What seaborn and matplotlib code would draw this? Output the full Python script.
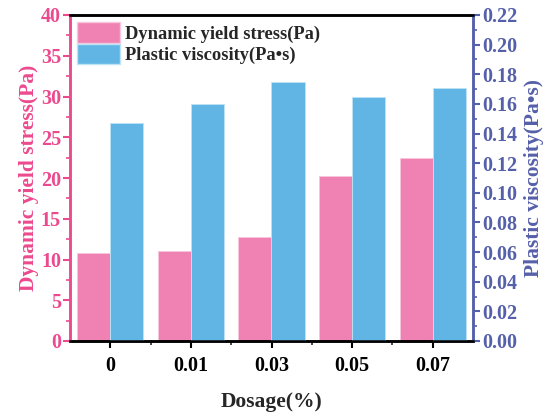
import numpy as np
import pandas as pd
import matplotlib
matplotlib.use("Agg")
import matplotlib.pyplot as plt
import seaborn as sns
from matplotlib.patches import Patch
from matplotlib.ticker import MultipleLocator

dosage = ["0", "0.01", "0.03", "0.05", "0.07"]
yield_stress = [10.8, 11.0, 12.8, 20.2, 22.5]
viscosity = [0.147, 0.160, 0.175, 0.165, 0.171]
series = ["Dynamic yield stress(Pa)", "Plastic viscosity(Pa•s)"]

PINK = "#F082B3"
BLUE = "#60B5E4"
PINK_AX = "#EC4A8E"
BLUE_AX = "#5560AA"

sns.set_style("ticks")
plt.rcParams["font.family"] = ["Liberation Serif", "DejaVu Serif"]
plt.rcParams["font.weight"] = "bold"

df1 = pd.DataFrame({"Dosage": dosage * 2,
                    "Series": [series[0]] * 5 + [series[1]] * 5,
                    "Value": yield_stress + [np.nan] * 5})
df2 = pd.DataFrame({"Dosage": dosage * 2,
                    "Series": [series[0]] * 5 + [series[1]] * 5,
                    "Value": [np.nan] * 5 + viscosity})

fig = plt.figure(figsize=(5.51, 4.12), dpi=100)
ax1 = fig.add_axes([70 / 551, 1 - 341 / 412, (473 - 70) / 551, (341 - 15) / 412])
ax2 = ax1.twinx()

sns.barplot(data=df1, x="Dosage", y="Value", hue="Series", hue_order=series,
            palette=[PINK, BLUE], width=0.82, ax=ax1, legend=False,
            edgecolor="#F7C6DC", linewidth=0.6, saturation=1)
sns.barplot(data=df2, x="Dosage", y="Value", hue="Series", hue_order=series,
            palette=[PINK, BLUE], width=0.82, ax=ax2, legend=False,
            edgecolor="#BFE3F5", linewidth=0.6, saturation=1)

ax1.set_xlim(-0.5, 4.5)
ax1.set_ylim(0, 40)
ax2.set_ylim(0, 0.22)

ax1.yaxis.set_major_locator(MultipleLocator(5))
ax1.yaxis.set_minor_locator(MultipleLocator(2.5))
ax2.yaxis.set_minor_locator(MultipleLocator(0.01))
ax1.set_xticks(range(5))
ax1.set_xticks(np.arange(0.5, 4.5, 1), minor=True)
ax2.set_yticks(np.arange(0, 0.2201, 0.02))
ax2.set_yticklabels([f"{v:.2f}" for v in np.arange(0, 0.2201, 0.02)])

for ax in (ax1, ax2):
    for s in ax.spines.values():
        s.set_linewidth(1.8)
    ax.spines["top"].set_color("black")
    ax.spines["bottom"].set_color("black")
    ax.spines["left"].set_color(PINK_AX)
    ax.spines["right"].set_color(BLUE_AX)
    ax.spines["top"].set_visible(True)
    ax.spines["right"].set_visible(True)

TS = 14.5
ax1.tick_params(axis="y", which="major", colors=PINK_AX, labelsize=TS,
                length=5, width=1.5, direction="out", pad=1.5)
ax1.tick_params(axis="y", which="minor", colors=PINK_AX, length=3, width=1.2)
ax1.tick_params(axis="x", which="major", colors="black", labelsize=TS,
                length=5, width=1.5, pad=6)
ax1.tick_params(axis="x", which="minor", length=3, width=1.2)
ax2.tick_params(axis="y", which="major", colors=BLUE_AX, labelsize=TS,
                length=5, width=1.5, direction="out", pad=1.5)
ax2.tick_params(axis="y", which="minor", colors=BLUE_AX, length=3, width=1.2)

for lab in ax1.get_yticklabels() + ax1.get_xticklabels() + ax2.get_yticklabels():
    lab.set_fontweight("bold")

ax1.set_xlabel("Dosage(%)", fontsize=15.5, fontweight="bold", labelpad=11)
ax1.set_ylabel("Dynamic yield stress(Pa)", fontsize=15.5, fontweight="bold",
               color=PINK_AX, labelpad=1)
ax2.set_ylabel("Plastic viscosity(Pa•s)", fontsize=15.5, fontweight="bold",
               color=BLUE_AX, labelpad=5)

handles = [Patch(facecolor=PINK, edgecolor="#F7C6DC"),
           Patch(facecolor=BLUE, edgecolor="#BFE3F5")]
leg = ax2.legend(handles, series, loc="upper left", bbox_to_anchor=(0.0, 1.0),
                 frameon=False, prop={"weight": "bold", "size": 13.3},
                 handlelength=2.3, handleheight=1.3, handletextpad=0.3,
                 labelspacing=0.05, borderaxespad=0.0, borderpad=0.4)

fig.savefig("out.png", dpi=100)
